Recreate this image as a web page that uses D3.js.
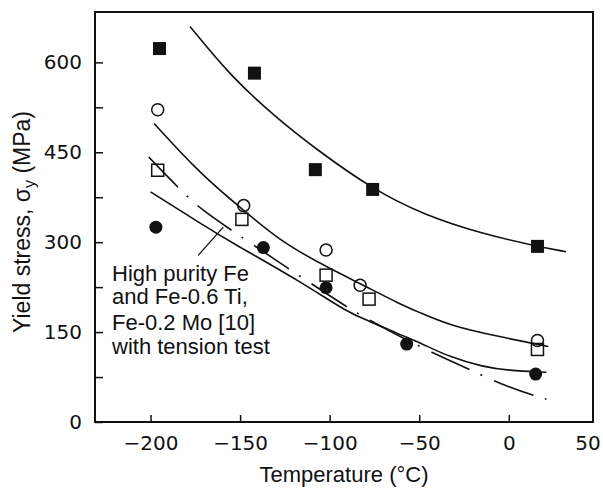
<!DOCTYPE html>
<html>
<head>
<meta charset="utf-8">
<script src="https://cdn.jsdelivr.net/npm/d3@7"></script>
<style>
  body { margin: 0; background: #fff; }
  text { fill: #111; }
  .tick text { font-family: "DejaVu Sans", sans-serif; font-size: 20px; }
  .tick line { stroke: #111; stroke-width: 1.5; }
  .title, .note { font-family: "Liberation Sans", sans-serif; font-size: 22px; }
  .curve { fill: none; stroke: #111; stroke-width: 1.6; }
</style>
</head>
<body>
<svg id="chart" width="603" height="488"></svg>
<script>
// measured points, [temperature (C), yield stress (MPa)]
var filledSquares = [[-195, 623], [-142, 582], [-108, 421], [-76, 388], [16, 293]];
var openCircles   = [[-196, 521], [-148, 361], [-102, 287], [-83, 228], [16, 136]];
var openSquares   = [[-196, 420], [-149, 338], [-102, 245], [-78, 205], [16, 121]];
var filledCircles = [[-197, 325], [-137, 291], [-102, 224], [-57, 130], [15, 80]];

// fitted curves
var curveTop = [[-178, 660], [-155, 576], [-130, 508], [-108, 456], [-76, 388], [-47, 345], [-15, 314], [16, 293], [32, 284]];
var curveMid = [[-198, 498], [-172, 413], [-148, 353], [-126, 298], [-98, 253], [-83, 231], [-61, 197], [-50, 183], [-33, 161], [-5, 142], [22, 126]];
var curveLow = [[-200, 384], [-172, 331], [-154, 298], [-116, 234], [-89, 181], [-79, 170], [-61, 146], [-50, 133], [-33, 108], [-14, 92], [-1, 86], [21, 83]];
var curveTension = [[-201, 442], [-183, 386], [-172, 355], [-152, 314], [-118, 246], [-89, 189], [-79, 172], [-51, 127], [-25, 92], [-1, 58], [21, 38]];
var leader = [[-173.4, 278], [-159.4, 325]];

// axes
var xDomain = [-231, 47];
var yDomain = [0, 684];
var xTicks = [-200, -150, -100, -50, 0];
var xEdgeLabel = 50;
var yTicks = [0, 75, 150, 225, 300, 375, 450, 525, 600];
var yLabelStep = 150;
var noteLines = ['High purity Fe', 'and Fe-0.6 Ti,', 'Fe-0.2 Mo [10]', 'with tension test'];

var margin = { top: 12, right: 10, bottom: 66, left: 95 },
    svg = d3.select('#chart'),
    width = +svg.attr('width') - margin.left - margin.right,
    height = +svg.attr('height') - margin.top - margin.bottom;
var g = svg.append('g')
  .attr('transform', 'translate(' + margin.left + ',' + margin.top + ')');

var x = d3.scaleLinear().domain(xDomain).range([0, width]),
    y = d3.scaleLinear().domain(yDomain).range([height, 0]);

var fmt = function(d) { return d < 0 ? '\u2212' + Math.abs(d) : String(d); };

// x axis, ticks pointing in
var gx = g.append('g')
  .attr('transform', 'translate(0,' + height + ')')
  .call(d3.axisBottom(x).tickValues(xTicks).tickSize(-7).tickPadding(14).tickFormat(fmt));
gx.select('.domain').remove();

gx.append('text')
  .attr('class', 'tick')
  .attr('x', x(xDomain[1]) - 5)
  .attr('y', 14)
  .attr('dy', '0.71em')
  .attr('text-anchor', 'middle')
  .style('font-family', '"DejaVu Sans", sans-serif')
  .style('font-size', '20px')
  .text(xEdgeLabel);

// y axis, labels every 150
var gy = g.append('g')
  .call(d3.axisLeft(y).tickValues(yTicks).tickSize(-8).tickPadding(13)
    .tickFormat(function(d) { return d % yLabelStep === 0 ? d : ''; }));
gy.select('.domain').remove();

// frame
g.append('rect')
  .attr('width', width)
  .attr('height', height)
  .style('fill', 'none')
  .style('stroke', '#111')
  .style('stroke-width', 2);

// curves
var line = d3.line()
  .x(function(d) { return x(d[0]); })
  .y(function(d) { return y(d[1]); })
  .curve(d3.curveBasis);

[curveTop, curveMid, curveLow].forEach(function(c) {
  g.append('path').attr('class', 'curve').attr('d', line(c));
});

g.append('path')
  .attr('class', 'curve')
  .attr('d', line(curveTension))
  .style('stroke-dasharray', '42,12,2,13');

g.append('path')
  .attr('class', 'curve')
  .style('stroke-width', 1.3)
  .attr('d', d3.line().x(function(d) { return x(d[0]); }).y(function(d) { return y(d[1]); })(leader));

// markers
g.selectAll('.fsq').data(filledSquares).enter().append('rect')
  .attr('x', function(d) { return x(d[0]) - 6.5; })
  .attr('y', function(d) { return y(d[1]) - 6.5; })
  .attr('width', 13).attr('height', 13)
  .style('fill', '#111');

g.selectAll('.osq').data(openSquares).enter().append('rect')
  .attr('x', function(d) { return x(d[0]) - 6; })
  .attr('y', function(d) { return y(d[1]) - 6; })
  .attr('width', 12).attr('height', 12)
  .style('fill', 'none').style('stroke', '#111').style('stroke-width', 1.5);

g.selectAll('.oc').data(openCircles).enter().append('circle')
  .attr('cx', function(d) { return x(d[0]); })
  .attr('cy', function(d) { return y(d[1]); })
  .attr('r', 6)
  .style('fill', 'none').style('stroke', '#111').style('stroke-width', 1.5);

g.selectAll('.fc').data(filledCircles).enter().append('circle')
  .attr('cx', function(d) { return x(d[0]); })
  .attr('cy', function(d) { return y(d[1]); })
  .attr('r', 6.5)
  .style('fill', '#111');

// note text
g.selectAll('.note').data(noteLines).enter().append('text')
  .attr('class', 'note')
  .attr('x', 17)
  .attr('y', function(d, i) { return 269 + [0, 23, 49, 73][i]; })
  .text(function(d) { return d; });

// axis titles
g.append('text')
  .attr('class', 'title')
  .attr('x', width / 2)
  .attr('y', height + 60)
  .attr('text-anchor', 'middle')
  .text('Temperature (\u00b0C)');

var yt = svg.append('text')
  .attr('class', 'title')
  .attr('transform', 'translate(30,222) rotate(-90)')
  .attr('text-anchor', 'middle')
  .style('font-size', '23px');
yt.append('tspan').text('Yield stress, \u03c3');
yt.append('tspan').attr('dy', 5).style('font-size', '16px').text('y');
yt.append('tspan').attr('dy', -5).text(' (MPa)');
</script>
</body>
</html>
